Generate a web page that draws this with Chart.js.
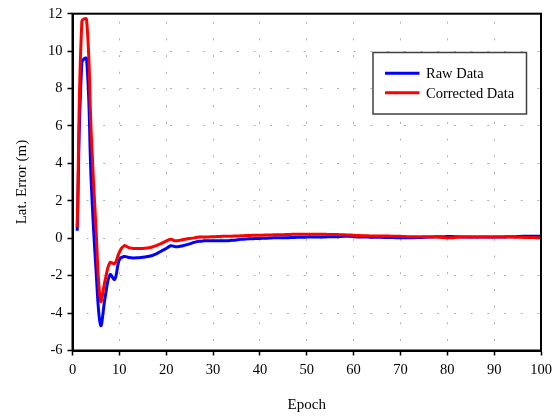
<!DOCTYPE html>
<html>
<head>
<meta charset="utf-8">
<script src="https://cdn.jsdelivr.net/npm/chart.js@4"></script>
<style>
html,body{margin:0;padding:0;background:#fff;}
#wrap{width:558px;height:416px;position:relative;}
</style>
</head>
<body>
<div id="wrap"><canvas id="c" width="558" height="416"></canvas></div>
<script>
const epochs = [1,2,3,4,5,6,7,8,9,10,11,12,13,14,15,16,17,18,19,20,
  21,22,23,24,25,26,27,28,29,30,31,32,33,34,35,36,37,38,39,40,
  41,42,43,44,45,46,47,48,49,50,51,52,53,54,55,56,57,58,59,60,
  61,62,63,64,65,66,67,68,69,70,71,72,73,74,75,76,77,78,79,80,
  81,82,83,84,85,86,87,88,89,90,91,92,93,94,95,96,97,98,99,100];

const rawData = [0.4,9.4,9.6,3.0,-1.6,-4.65,-3.1,-1.95,-2.2,-1.15,
  -0.98,-1.03,-1.05,-1.04,-1.02,-0.98,-0.92,-0.82,-0.68,-0.55,
  -0.4,-0.46,-0.43,-0.37,-0.3,-0.22,-0.16,-0.14,-0.14,-0.14,
  -0.14,-0.13,-0.13,-0.11,-0.09,-0.06,-0.04,-0.03,-0.02,-0.01,
  0.0,0.01,0.02,0.02,0.03,0.03,0.04,0.05,0.05,0.06,
  0.06,0.07,0.07,0.07,0.08,0.08,0.09,0.1,0.1,0.09,
  0.07,0.06,0.06,0.05,0.05,0.05,0.04,0.04,0.03,0.02,
  0.02,0.02,0.03,0.04,0.05,0.06,0.07,0.08,0.08,0.09,
  0.09,0.08,0.07,0.07,0.07,0.06,0.06,0.06,0.06,0.06,
  0.07,0.07,0.08,0.08,0.09,0.1,0.1,0.1,0.1,0.1];

const correctedData = [0.6,11.6,11.7,5.6,0.6,-3.35,-2.2,-1.3,-1.35,-0.75,
  -0.4,-0.5,-0.55,-0.55,-0.55,-0.52,-0.47,-0.38,-0.27,-0.15,
  -0.06,-0.14,-0.1,-0.05,-0.02,0.02,0.06,0.07,0.07,0.08,
  0.09,0.1,0.1,0.11,0.12,0.13,0.14,0.15,0.16,0.16,
  0.17,0.17,0.18,0.18,0.19,0.2,0.21,0.21,0.21,0.21,
  0.21,0.21,0.21,0.21,0.2,0.2,0.19,0.18,0.17,0.16,
  0.14,0.13,0.13,0.12,0.12,0.12,0.12,0.11,0.11,0.1,
  0.09,0.08,0.08,0.08,0.08,0.07,0.07,0.06,0.04,0.03,
  0.03,0.05,0.06,0.06,0.07,0.07,0.07,0.07,0.07,0.07,
  0.07,0.07,0.07,0.06,0.05,0.05,0.04,0.04,0.03,0.02];

const seriesLabels = ['Raw Data', 'Corrected Data'];
const seriesColors = ['#0000ff', '#ff0000'];
const xTitle = 'Epoch';
const yTitle = 'Lat. Error (m)';

const FONT = '"Liberation Serif", "Times New Roman", serif';

function toPoints(vals) { return epochs.map((e, i) => ({x: e, y: vals[i]})); }

const framePlugin = {
  id: 'frame',
  afterDatasetsDraw(chart) {
    const {ctx, chartArea: a} = chart;
    ctx.save();
    ctx.strokeStyle = '#000';
    ctx.lineWidth = 2;
    ctx.strokeRect(a.left, a.top, a.right - a.left, a.bottom - a.top);
    ctx.restore();

    // legend box
    ctx.save();
    const bx = 373, by = 52.5, bw = 153.5, bh = 61.5;
    ctx.fillStyle = '#fff';
    ctx.fillRect(bx, by, bw, bh);
    ctx.strokeStyle = '#404040';
    ctx.lineWidth = 1.5;
    ctx.strokeRect(bx, by, bw, bh);
    ctx.font = '14.5px ' + FONT;
    ctx.textBaseline = 'middle';
    ctx.fillStyle = '#000';
    const rows = [73.3, 92.7];
    chart.data.datasets.slice().sort((p, q) => p.legendIndex - q.legendIndex).forEach((ds, i) => {
      ctx.strokeStyle = ds.borderColor;
      ctx.lineWidth = 3;
      ctx.beginPath();
      ctx.moveTo(385, rows[i]);
      ctx.lineTo(419.5, rows[i]);
      ctx.stroke();
      ctx.fillText(ds.label, 426, rows[i] + 1);
    });
    ctx.restore();
  }
};

new Chart(document.getElementById('c'), {
  type: 'line',
  data: {
    datasets: [
      {label: seriesLabels[0], legendIndex: 0, data: toPoints(rawData), borderColor: seriesColors[0], backgroundColor: seriesColors[0], borderWidth: 3, pointRadius: 0, tension: 0.4, order: 2, fill: false},
      {label: seriesLabels[1], legendIndex: 1, data: toPoints(correctedData), borderColor: seriesColors[1], backgroundColor: seriesColors[1], borderWidth: 3, pointRadius: 0, tension: 0.4, order: 1, fill: false}
    ]
  },
  options: {
    responsive: false,
    animation: false,
    devicePixelRatio: 1,
    layout: {padding: {top: 13, right: 17, left: 0, bottom: 0}},
    plugins: {legend: {display: false}, tooltip: {enabled: false}},
    scales: {
      x: {
        type: 'linear', min: 0, max: 100,
        afterFit(s) { s.height = 65.5; },
        ticks: {stepSize: 10, color: '#000', font: {family: FONT, size: 14.5}, padding: 6, maxRotation: 0},
        grid: {color: '#b0b0b0', lineWidth: 1, tickLength: 5, tickColor: '#000', tickWidth: 1.5},
        border: {display: true, color: '#000', width: 2, dash: [2, 14.7], dashOffset: 8.7},
        title: {display: true, text: xTitle, color: '#000', font: {family: FONT, size: 15}, padding: {top: 0, bottom: 2}}
      },
      y: {
        type: 'linear', min: -6, max: 12,
        afterFit(s) { s.width = 72.5; },
        ticks: {stepSize: 2, color: '#000', font: {family: FONT, size: 14.5}, padding: 5},
        grid: {color: '#b0b0b0', lineWidth: 1, tickLength: 5, tickColor: '#000', tickWidth: 1.5},
        border: {display: true, color: '#000', width: 2, dash: [2, 14.7], dashOffset: 4.2},
        title: {display: true, text: yTitle, color: '#000', font: {family: FONT, size: 15}, padding: {top: 13, bottom: 0}}
      }
    }
  },
  plugins: [framePlugin]
});
</script>
</body>
</html>
